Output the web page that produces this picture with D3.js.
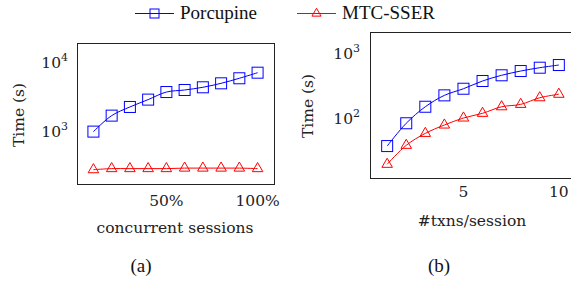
<!DOCTYPE html>
<html>
<head>
<meta charset="utf-8">
<script src="https://cdn.jsdelivr.net/npm/d3@7/dist/d3.min.js"></script>
<style>
    body { margin: 0; background: #fff; }
    svg { display: block; }
</style>
</head>
<body>
<svg id="chart" width="571" height="284"></svg>
<script>
'use strict';

// series names
var seriesNames = ['Porcupine', 'MTC-SSER'];

// (a) concurrent sessions, percent
var sessionsPct = [10, 20, 30, 40, 50, 60, 70, 80, 90, 100];
var porcupineA = [980, 1670, 2230, 2850, 3670, 3930, 4300, 4910, 5810, 7000];
var mtcA = [275, 285, 285, 285, 285, 290, 290, 290, 290, 285];
var xTicksA = [50, 100];
var yTicksA = [1e3, 1e4];

// (b) txns per session
var txnsPerSession = [1, 2, 3, 4, 5, 6, 7, 8, 9, 10];
var porcupineB = [37, 83, 149, 223, 282, 371, 454, 528, 594, 653];
var mtcB = [19.4, 38, 58, 78, 100, 118, 149, 162, 205, 232];
var xTicksB = [5, 10];
var yTicksB = [1e2, 1e3];

var svg = d3.select('#chart');

var blue = '#0000ff', red = '#ff0000';
var axisFont = "'DejaVu Serif', serif";
var legendFont = "'Liberation Serif', 'Times New Roman', serif";

var triangle = d3.symbol().type(d3.symbolTriangle);

function drawPanel(opt) {
    var g = svg.append('g');
    var x = d3.scaleLinear().domain(opt.xDomain).range([opt.left, opt.right]);
    var y = d3.scaleLog().domain(opt.yRef).range(opt.yRefPx);

    // frame
    g.append('rect')
        .attr('x', opt.left + 0.5)
        .attr('y', opt.top + 0.5)
        .attr('width', opt.right - opt.left)
        .attr('height', opt.bottom - opt.top)
        .attr('fill', 'none')
        .attr('stroke', '#222')
        .attr('stroke-width', 1);

    // y tick labels 10^n
    var yl = g.selectAll('.ylab')
        .data(opt.yTicks)
        .enter().append('text')
        .attr('font-family', axisFont)
        .attr('fill', '#222')
        .attr('font-size', 15.5)
        .attr('x', opt.yLabelX)
        .attr('y', function (d) { return y(d) + 5.5; })
        .attr('text-anchor', 'end');
    yl.append('tspan').text('10');
    yl.append('tspan')
        .attr('dy', -7)
        .attr('font-size', 11)
        .text(function (d) { return Math.round(Math.log10(d)); });

    // x tick labels
    g.selectAll('.xlab')
        .data(opt.xTicks)
        .enter().append('text')
        .attr('font-family', axisFont)
        .attr('fill', '#222')
        .attr('font-size', 15.5)
        .attr('x', function (d) { return x(d); })
        .attr('y', opt.xLabelY)
        .attr('text-anchor', 'middle')
        .text(opt.xFormat);

    // titles
    g.append('text')
        .attr('font-family', axisFont)
        .attr('fill', '#222')
        .attr('font-size', 15.5)
        .attr('transform', 'translate(' + opt.yTitleX + ',' + opt.yTitleY + ') rotate(-90)')
        .attr('text-anchor', 'middle')
        .text('Time (s)');
    g.append('text')
        .attr('font-family', axisFont)
        .attr('fill', '#222')
        .attr('font-size', 15.5)
        .attr('x', opt.xTitleX)
        .attr('y', opt.xTitleY)
        .attr('text-anchor', 'middle')
        .text(opt.xTitle);
    g.append('text')
        .attr('font-family', legendFont)
        .attr('fill', '#111')
        .attr('font-size', 19)
        .attr('x', opt.capX)
        .attr('y', 272)
        .attr('text-anchor', 'middle')
        .text(opt.caption);

    var line = d3.line()
        .x(function (d) { return x(d[0]); })
        .y(function (d) { return y(d[1]); })
        .curve(d3.curveCatmullRom.alpha(0.5));

    var p = d3.zip(opt.xs, opt.porcupine);
    var m = d3.zip(opt.xs, opt.mtc);

    g.append('path').datum(p).attr('d', line)
        .attr('fill', 'none').attr('stroke', blue).attr('stroke-width', 1);
    g.append('path').datum(m).attr('d', line)
        .attr('fill', 'none').attr('stroke', red).attr('stroke-width', 1);

    // markers
    g.selectAll('.sq')
        .data(p)
        .enter().append('rect')
        .attr('x', function (d) { return x(d[0]) - 5.5; })
        .attr('y', function (d) { return y(d[1]) - 5.5; })
        .attr('width', 11)
        .attr('height', 11)
        .attr('fill', 'none')
        .attr('stroke', blue)
        .attr('stroke-width', 1);
    g.selectAll('.tri')
        .data(m)
        .enter().append('path')
        .attr('d', triangle.size(48))
        .attr('transform', function (d) {
            return 'translate(' + x(d[0]) + ',' + y(d[1]) + ')';
        })
        .attr('fill', 'none')
        .attr('stroke', red)
        .attr('stroke-width', 1);
}

drawPanel({
    left: 77, right: 274, top: 43, bottom: 184,
    xDomain: [1, 109],
    yRef: [1e3, 1e4], yRefPx: [131, 62],
    xs: sessionsPct, porcupine: porcupineA, mtc: mtcA,
    xTicks: xTicksA, yTicks: yTicksA,
    xFormat: function (d) { return d + '%'; },
    yLabelX: 68, xLabelY: 206,
    yTitleX: 24, yTitleY: 115,
    xTitle: 'concurrent sessions', xTitleX: 175, xTitleY: 233,
    caption: '(a)', capX: 141
});

drawPanel({
    left: 370, right: 576, top: 32, bottom: 178,
    xDomain: [0.1, 10.9],
    yRef: [1e2, 1e3], yRefPx: [118, 53],
    xs: txnsPerSession, porcupine: porcupineB, mtc: mtcB,
    xTicks: xTicksB, yTicks: yTicksB,
    xFormat: function (d) { return d; },
    yLabelX: 360, xLabelY: 197,
    yTitleX: 313, yTitleY: 106,
    xTitle: '#txns/session', xTitleX: 472, xTitleY: 226,
    caption: '(b)', capX: 439
});

// legend
var legendItems = [
    { name: seriesNames[0], color: blue, x0: 135, x1: 174, tx: 180, marker: 'square' },
    { name: seriesNames[1], color: red, x0: 297, x1: 336, tx: 342, marker: 'triangle' }
];
var lg = svg.append('g');
legendItems.forEach(function (it) {
    var ly = 13.5;
    lg.append('line')
        .attr('x1', it.x0).attr('x2', it.x1)
        .attr('y1', ly).attr('y2', ly)
        .attr('stroke', it.color).attr('stroke-width', 1);
    var mx = (it.x0 + it.x1) / 2;
    if (it.marker === 'square') {
        lg.append('rect')
            .attr('x', mx - 4.5).attr('y', ly - 4.5)
            .attr('width', 9).attr('height', 9)
            .attr('fill', 'none').attr('stroke', it.color);
    } else {
        lg.append('path')
            .attr('d', triangle.size(36))
            .attr('transform', 'translate(' + mx + ',' + ly + ')')
            .attr('fill', 'none').attr('stroke', it.color);
    }
    lg.append('text')
        .attr('font-family', legendFont)
        .attr('fill', '#111')
        .attr('font-size', 19)
        .attr('x', it.tx)
        .attr('y', 19)
        .text(it.name);
});
</script>
</body>
</html>
